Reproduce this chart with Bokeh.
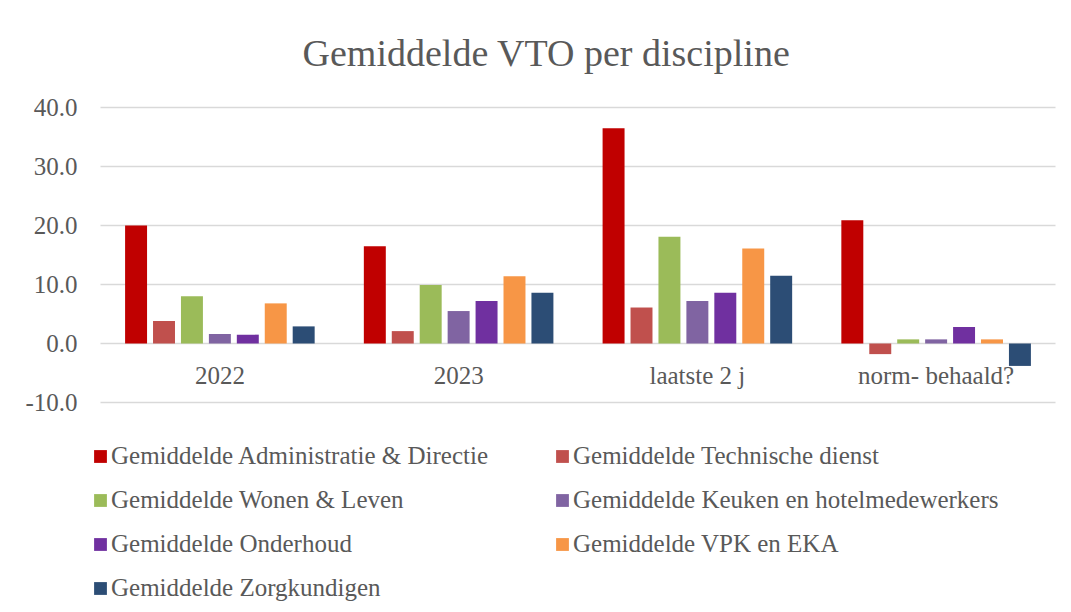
from bokeh.plotting import figure
from bokeh.models import (ColumnDataSource, FactorRange, Range1d, FixedTicker,
                          NumeralTickFormatter, Legend, LegendItem, Label)
from bokeh.transform import dodge
from bokeh.embed import file_html
from bokeh.resources import INLINE

title_text = "Gemiddelde VTO per discipline"
categories = ["2022", "2023", "laatste 2 j", "norm- behaald?"]
series_names = [
    "Gemiddelde Administratie & Directie",
    "Gemiddelde Technische dienst",
    "Gemiddelde Wonen & Leven",
    "Gemiddelde Keuken en hotelmedewerkers",
    "Gemiddelde Onderhoud",
    "Gemiddelde VPK en EKA",
    "Gemiddelde Zorgkundigen",
]
administratie = [20.0, 16.5, 36.5, 20.9]
technische = [3.8, 2.1, 6.1, -1.8]
wonen = [8.0, 9.9, 18.1, 0.7]
keuken = [1.6, 5.5, 7.2, 0.7]
onderhoud = [1.5, 7.2, 8.6, 2.8]
vpk = [6.8, 11.4, 16.1, 0.7]
zorg = [2.9, 8.6, 11.5, -3.8]
y_ticks = [-10, 0, 10, 20, 30, 40]

colors = ["#C00000", "#C0504D", "#9BBB59", "#8064A2", "#7030A0", "#F79646", "#2C4D75"]
keys = ["s0", "s1", "s2", "s3", "s4", "s5", "s6"]
values = [administratie, technische, wonen, keuken, onderhoud, vpk, zorg]

data = {"cat": categories}
for k, v in zip(keys, values):
    data[k] = v
source = ColumnDataSource(data)

grid_src = ColumnDataSource(dict(y=y_ticks,
                                 x0=[categories[0]] * len(y_ticks),
                                 x1=[categories[-1]] * len(y_ticks)))

FONT = "Liberation Serif"
GREY = "#595959"
PX = 5.9  # pixels per unit on the y axis

y_top = 40 + 107 / PX
y_bot = -10 - (604 - 402) / PX

p = figure(width=1063, height=604, output_backend="svg", toolbar_location=None,
           x_range=FactorRange(*categories, range_padding=8 / 238.75,
                               range_padding_units="absolute"),
           y_range=Range1d(y_bot, y_top),
           min_border_left=92, min_border_right=0, min_border_top=0,
           min_border_bottom=0)
p.outline_line_color = None
p.title.text = ""
p.title.visible = False

# gridlines spanning the category area only
p.segment(x0=dodge("x0", -0.5, range=p.x_range), x1=dodge("x1", 0.5, range=p.x_range),
          y0="y", y1="y", source=grid_src, line_color="#d9d9d9", line_width=1.5)

step = 0.117
width = 0.092
renderers = []
for i, (k, c) in enumerate(zip(keys, colors)):
    r = p.vbar(x=dodge("cat", (i - 3) * step, range=p.x_range), top=k, bottom=0,
               width=width, source=source, fill_color=c, line_color=None)
    renderers.append(r)

p.xgrid.grid_line_color = None
p.ygrid.grid_line_color = None
p.yaxis.ticker = FixedTicker(ticks=y_ticks)
p.yaxis.formatter = NumeralTickFormatter(format="0.0")
p.yaxis.axis_line_color = None
p.yaxis.major_tick_line_color = None
p.yaxis.minor_tick_line_color = None
p.yaxis.major_tick_out = 0
p.yaxis.major_tick_in = 0
p.yaxis.major_label_standoff = 15
p.yaxis.major_label_text_font = FONT
p.yaxis.major_label_text_font_size = "25px"
p.yaxis.major_label_text_color = GREY

p.xaxis.fixed_location = 0
p.xaxis.axis_line_color = None
p.xaxis.major_tick_line_color = None
p.xaxis.minor_tick_line_color = None
p.xaxis.major_label_standoff = 12
p.xaxis.major_label_text_font = FONT
p.xaxis.major_label_text_font_size = "25px"
p.xaxis.major_label_text_color = GREY

p.add_layout(Label(x=454, y=552, x_units="screen", y_units="screen", text=title_text,
                   text_align="center", text_baseline="alphabetic",
                   text_font=FONT, text_font_size="38px", text_color=GREY))


def make_legend(idx, loc):
    return Legend(items=[LegendItem(label=series_names[i], renderers=[renderers[i]]) for i in idx],
                  location=loc, orientation="vertical", padding=0, margin=0,
                  spacing=14, glyph_width=16, glyph_height=16, label_standoff=3,
                  label_height=30,
                  label_text_font=FONT, label_text_font_size="25px",
                  label_text_color=GREY, border_line_color=None,
                  background_fill_alpha=0)


p.add_layout(make_legend([0, 2, 4, 6], (0, 1)))
p.add_layout(make_legend([1, 3, 5], (462, 45)))

open("out.html", "w").write(file_html(p, INLINE))
